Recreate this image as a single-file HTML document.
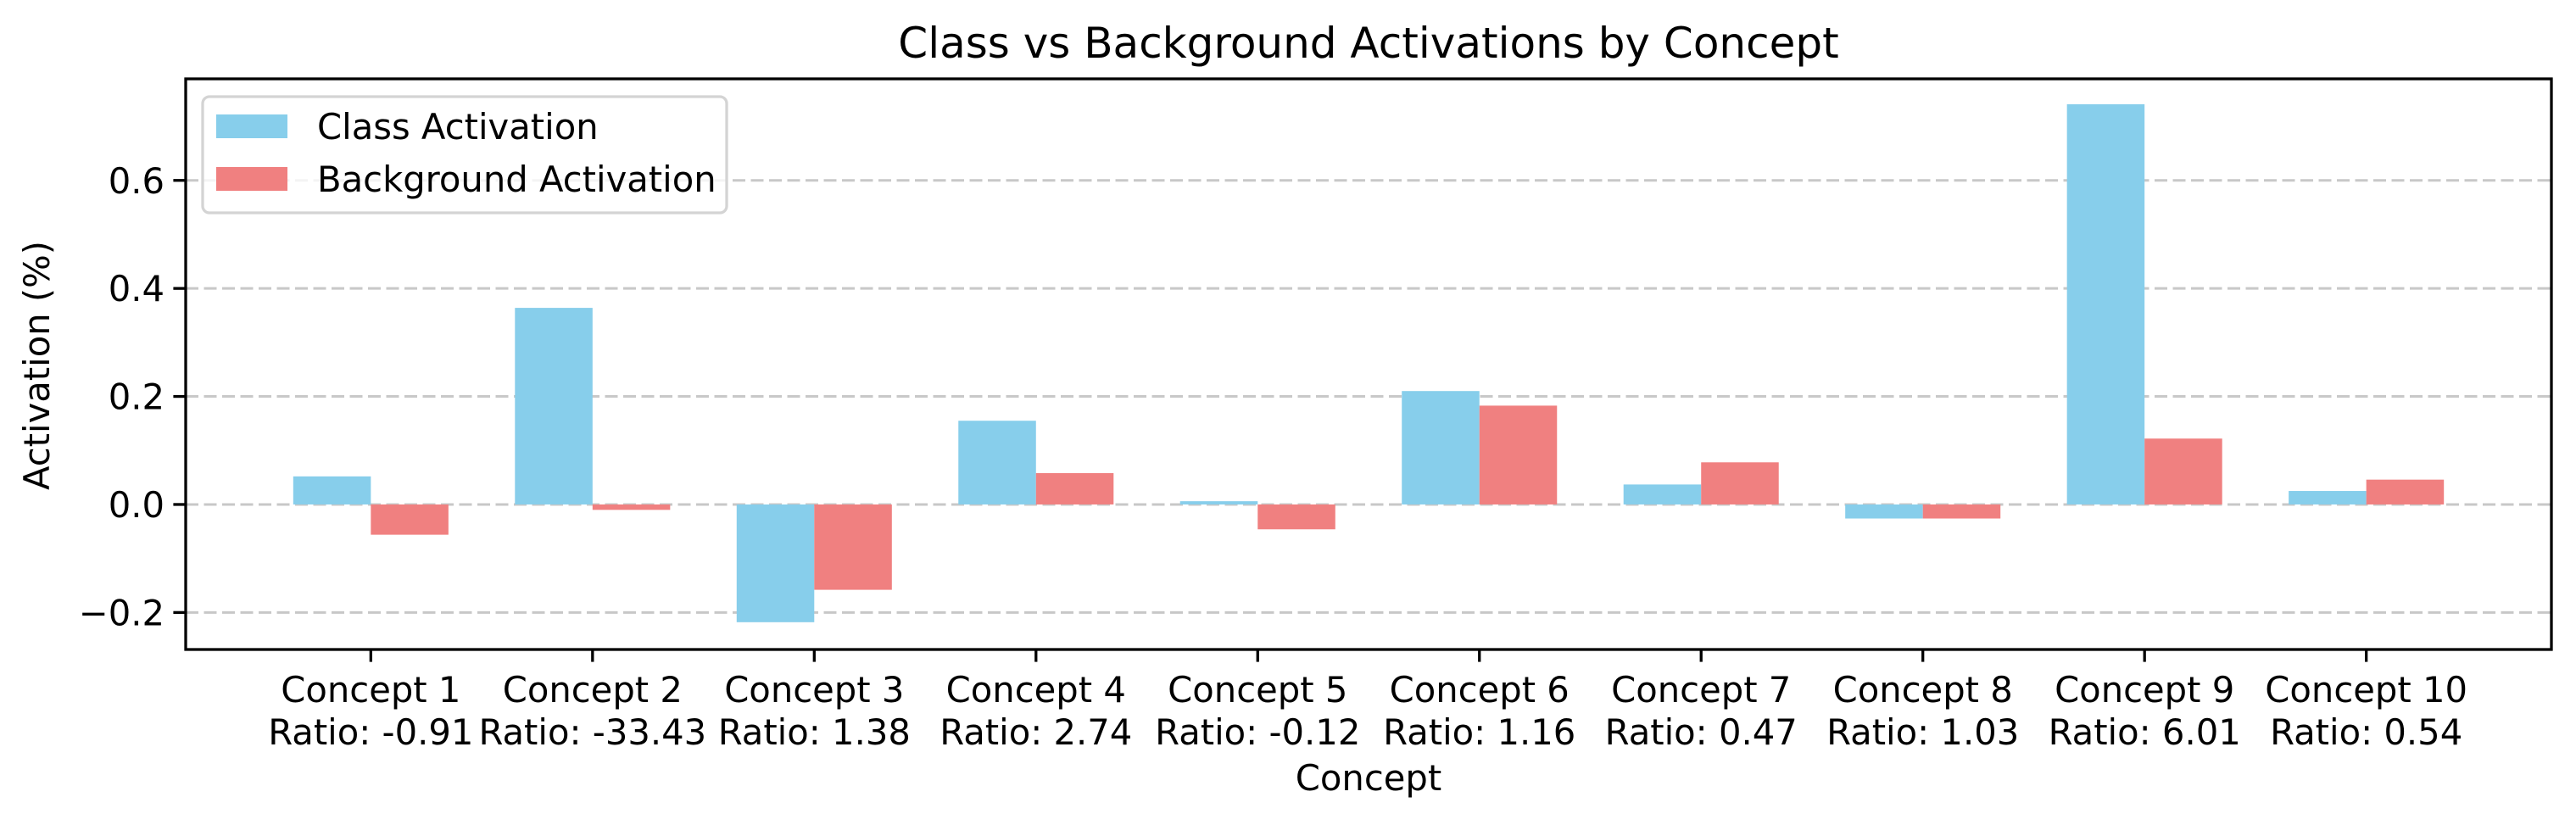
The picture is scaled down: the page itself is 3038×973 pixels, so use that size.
<!DOCTYPE html>
<html><head><meta charset="utf-8"><style>
html,body{margin:0;padding:0;background:#fff;}
svg{display:block;font-family:"DejaVu Sans","Liberation Sans",sans-serif;}
</style></head><body>
<svg id="chart" width="3038" height="973" viewBox="0 0 3038 973" xmlns="http://www.w3.org/2000/svg">
<text x="1614" y="68" font-size="50" text-anchor="middle">Class vs Background Activations by Concept</text>
<g id="grid"></g>
<g id="bars"></g>
<g id="axes"></g>
<text transform="translate(58,431) rotate(-90)" font-size="41.7" text-anchor="middle">Activation (%)</text>
<text x="1614" y="932" font-size="41.7" text-anchor="middle">Concept</text>
<g>
<rect x="239" y="114" width="618" height="137" rx="8" fill="#fff" fill-opacity="0.8" stroke="#d4d4d4" stroke-width="3.3"/>
<rect x="255" y="135" width="84" height="28" fill="#87CEEB"/>
<text x="374" y="164" font-size="41.7">Class Activation</text>
<rect x="255" y="197" width="84" height="28" fill="#F08080"/>
<text x="374" y="226" font-size="41.7">Background Activation</text>
</g>
</svg>
<script>
const categories = ["Concept 1","Concept 2","Concept 3","Concept 4","Concept 5","Concept 6","Concept 7","Concept 8","Concept 9","Concept 10"];
const ratioLabels = ["Ratio: -0.91","Ratio: -33.43","Ratio: 1.38","Ratio: 2.74","Ratio: -0.12","Ratio: 1.16","Ratio: 0.47","Ratio: 1.03","Ratio: 6.01","Ratio: 0.54"];
const classValues = [0.052,0.364,-0.218,0.155,0.006,0.210,0.037,-0.026,0.741,0.025];
const backgroundValues = [-0.056,-0.010,-0.158,0.058,-0.046,0.183,0.078,-0.026,0.122,0.046];
const yTicks = [-0.2,0.0,0.2,0.4,0.6];
const yTickLabels = ["\u22120.2","0.0","0.2","0.4","0.6"];

const NS="http://www.w3.org/2000/svg";
const L=219,R=3009,T=93,B=766;
const xMin=-0.835,xMax=9.835,yMin=-0.2685,yMax=0.788;
const xs=v=>L+(v-xMin)/(xMax-xMin)*(R-L);
const ys=v=>B-(v-yMin)/(yMax-yMin)*(B-T);
const W=0.35;
function mk(tag,attrs,parent){const e=document.createElementNS(NS,tag);for(const k in attrs)e.setAttribute(k,attrs[k]);parent.appendChild(e);return e;}
const grid=document.getElementById('grid'),bars=document.getElementById('bars'),axes=document.getElementById('axes');

yTicks.forEach((t,i)=>{
  const y=ys(t);
  const g=mk('line',{x1:L,x2:R,y1:y,y2:y,stroke:'#c8c8c8','stroke-width':3,'stroke-dasharray':'15 6.5'},grid);
  
  
  const tk=mk('line',{x1:L-14.6,x2:L,y1:y,y2:y,stroke:'#000','stroke-width':3.3},axes);
  
  
  const tl=mk('text',{x:L-25,y:y+15,'font-size':41.7,'text-anchor':'end'},axes);
  tl.textContent=yTickLabels[i];
  
  
});

categories.forEach((c,i)=>{
  const cv=classValues[i],bv=backgroundValues[i];
  const b1=mk('rect',{x:xs(i-W),width:xs(W)-xs(0),y:Math.min(ys(cv),ys(0)),height:Math.abs(ys(cv)-ys(0)),fill:'#87CEEB'},bars);
  
  
  const b2=mk('rect',{x:xs(i),width:xs(W)-xs(0),y:Math.min(ys(bv),ys(0)),height:Math.abs(ys(bv)-ys(0)),fill:'#F08080'},bars);
  
  
  const x=xs(i);
  const tk=mk('line',{x1:x,x2:x,y1:B,y2:B+14.6,stroke:'#000','stroke-width':3.3},axes);
  
  
  const t1=mk('text',{x:x,y:828,'font-size':41.7,'text-anchor':'middle'},axes);
  t1.textContent=c;
  
  
  const t2=mk('text',{x:x,y:878,'font-size':41.7,'text-anchor':'middle'},axes);
  t2.textContent=ratioLabels[i];
  
  
});

const frame=mk('rect',{x:L,y:T,width:R-L,height:B-T,fill:'none',stroke:'#000','stroke-width':3.3},axes);


</script>
</body></html>
